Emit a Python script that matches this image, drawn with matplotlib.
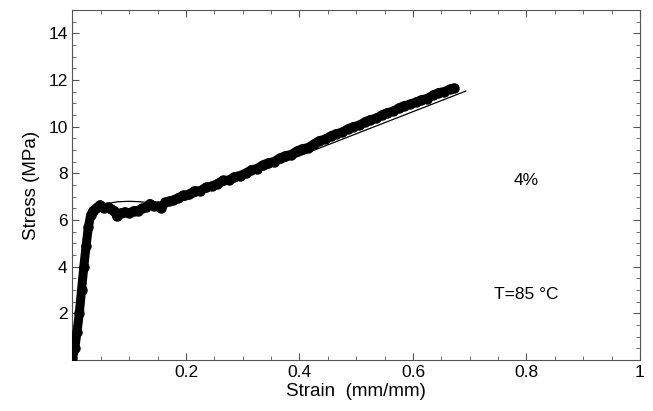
import matplotlib
matplotlib.use("Agg")
import matplotlib.pyplot as plt
from matplotlib.ticker import MultipleLocator, FixedLocator

plt.rcParams["font.family"] = ["Liberation Sans", "DejaVu Sans"]

# Measured stress-strain data (4%, T=85 C)
strain_exp = [0.000, 0.004, 0.008, 0.012, 0.016, 0.020, 0.024, 0.028, 0.032, 0.036,
              0.042, 0.048, 0.055, 0.062, 0.068, 0.074, 0.078, 0.085, 0.092, 0.100,
              0.108, 0.115, 0.122, 0.130, 0.136, 0.143, 0.150, 0.156, 0.163, 0.170,
              0.178, 0.186, 0.195, 0.205, 0.215, 0.225, 0.235, 0.245, 0.255, 0.265,
              0.275, 0.285, 0.295, 0.305, 0.315, 0.325, 0.335, 0.345, 0.355, 0.365,
              0.375, 0.385, 0.395, 0.405, 0.415, 0.425, 0.435, 0.445, 0.455, 0.465,
              0.475, 0.485, 0.495, 0.505, 0.515, 0.525, 0.535, 0.545, 0.555, 0.565,
              0.575, 0.585, 0.595, 0.605, 0.615, 0.625, 0.635, 0.645, 0.655, 0.665,
              0.672]
stress_exp = [0.10, 0.50, 1.20, 2.00, 3.00, 4.00, 4.90, 5.70, 6.20, 6.40,
              6.50, 6.65, 6.50, 6.55, 6.45, 6.40, 6.15, 6.30, 6.35, 6.30,
              6.40, 6.40, 6.50, 6.55, 6.70, 6.60, 6.60, 6.50, 6.75, 6.80,
              6.85, 6.95, 7.05, 7.10, 7.25, 7.25, 7.40, 7.45, 7.55, 7.70,
              7.70, 7.85, 7.90, 8.00, 8.15, 8.20, 8.35, 8.45, 8.50, 8.65,
              8.75, 8.80, 8.95, 9.05, 9.10, 9.25, 9.40, 9.45, 9.60, 9.70,
              9.75, 9.90, 10.00, 10.05, 10.20, 10.30, 10.35, 10.50, 10.60, 10.65,
              10.80, 10.90, 10.95, 11.05, 11.15, 11.20, 11.35, 11.45, 11.50, 11.60,
              11.65]

# Model fit
strain_fit = [0.000, 0.005, 0.010, 0.015, 0.020, 0.025, 0.030, 0.035, 0.045, 0.060,
              0.080, 0.100, 0.120, 0.140, 0.170, 0.200, 0.693]
stress_fit = [0.00, 1.00, 2.20, 3.50, 4.60, 5.40, 5.95, 6.30, 6.55, 6.70,
              6.78, 6.80, 6.78, 6.72, 6.75, 6.85, 11.52]

fig = plt.figure(figsize=(6.53, 4.11), dpi=100)
ax = fig.add_axes([0.111, 0.124, 0.869, 0.852])

ax.plot(strain_exp, stress_exp, color="black", lw=6.5, marker="o", ms=6.5,
        solid_capstyle="round", solid_joinstyle="round", zorder=3)
ax.plot(strain_fit, stress_fit, color="black", lw=0.9, zorder=4)

ax.text(0.8, 7.7, "4%", fontsize=12.5, ha="center", va="center")
ax.text(0.8, 2.8, "T=85 °C", fontsize=12.5, ha="center", va="center")

ax.set_xlim(0, 1)
ax.set_ylim(0, 15)
ax.xaxis.set_major_locator(FixedLocator([0.2, 0.4, 0.6, 0.8, 1.0]))
ax.xaxis.set_minor_locator(MultipleLocator(0.05))
ax.yaxis.set_major_locator(FixedLocator([2, 4, 6, 8, 10, 12, 14]))
ax.yaxis.set_minor_locator(MultipleLocator(0.5))
ax.set_xticklabels(["0.2", "0.4", "0.6", "0.8", "1"])

ax.tick_params(which="both", direction="in", top=True, right=True,
               color="#555555", labelsize=12.5)
ax.tick_params(which="major", length=5, width=0.8)
ax.tick_params(which="minor", length=3, width=0.6)
for s in ax.spines.values():
    s.set_color("#555555")
    s.set_linewidth(0.8)

ax.set_xlabel("Strain  (mm/mm)", fontsize=13.5, labelpad=2)
ax.set_ylabel("Stress (MPa)", fontsize=13.5, labelpad=6)

fig.savefig("out.png", dpi=100)
